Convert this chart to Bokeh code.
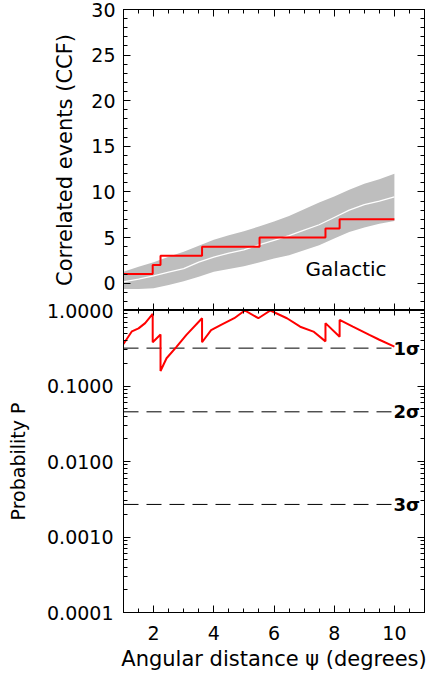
from bokeh.plotting import figure
from bokeh.layouts import column
from bokeh.models import (Range1d, LinearAxis, LogAxis, SingleIntervalTicker,
                          FixedTicker, PrintfTickFormatter)
from bokeh.core.properties import value
from bokeh.embed import file_html
from bokeh.resources import INLINE

# ---------------- data ----------------
psi_band = [1.0, 1.5, 2.0, 2.5, 3.0, 3.5, 4.0, 4.5, 5.0, 5.5,
            6.0, 6.5, 7.0, 7.5, 8.0, 8.5, 9.0, 9.5, 10.0]
ccf_upper = [1.25, 1.8, 2.3, 2.9, 3.45, 4.1, 4.75, 5.25, 5.7, 6.2,
             6.75, 7.35, 8.1, 8.85, 9.5, 10.25, 10.9, 11.4, 12.0]
ccf_lower = [-0.65, -0.65, -0.55, -0.2, 0.2, 0.7, 1.25, 1.55, 1.85, 2.25,
             2.7, 3.05, 3.6, 4.15, 4.9, 5.6, 6.1, 6.5, 6.8]
ccf_median = [0.15, 0.45, 0.8, 1.2, 1.6, 2.3, 2.85, 3.3, 3.65, 4.2,
              4.7, 5.2, 5.8, 6.4, 7.2, 8.0, 8.6, 9.0, 9.46]

step_psi = [1.0, 1.97, 2.23, 3.61, 5.52, 7.71, 8.18, 10.0]
step_ccf = [1, 2, 3, 4, 5, 6, 7, 7]

prob_psi = [1.0, 1.28, 1.5, 1.72, 1.97, 1.97, 2.23, 2.23, 2.43, 2.76,
            3.09, 3.61, 3.61, 3.91, 4.24, 4.68, 5.03, 5.48, 5.88, 6.43,
            6.87, 7.31, 7.71, 7.71, 8.18, 8.18, 8.62, 9.17, 9.5, 10.0]
prob_p = [0.36, 0.53, 0.58, 0.68, 0.9, 0.38, 0.48, 0.158, 0.233, 0.33,
          0.475, 0.79, 0.38, 0.55, 0.645, 0.79, 1.0, 0.79, 1.0, 0.79,
          0.61, 0.526, 0.39, 0.68, 0.45, 0.75, 0.61, 0.475, 0.41, 0.333]

sigma_levels = [0.3173, 0.0455, 0.0027]
sigma_labels = ["1σ", "2σ", "3σ"]

p_ticks = [0.0001, 0.001, 0.01, 0.1, 1.0]
p_minor = [m * d for d in [0.0001, 0.001, 0.01, 0.1] for m in range(2, 10)]

FONT = "DejaVu Sans"
OVERLAP = 20


def style_axis(ax, labels=True):
    ax.major_tick_in = 7
    ax.major_tick_out = 0
    ax.minor_tick_in = 4
    ax.minor_tick_out = 0
    ax.axis_line_color = "black"
    ax.major_tick_line_color = "black"
    ax.minor_tick_line_color = "black"
    ax.major_label_text_font = FONT
    ax.major_label_text_font_size = "19px"
    ax.major_label_text_color = "black"
    ax.axis_label_text_font = FONT
    ax.axis_label_text_font_size = "21px"
    ax.axis_label_text_font_style = "normal"
    ax.axis_label_text_color = "black"
    if not labels:
        ax.major_label_text_font_size = "1px"
        ax.major_label_text_color = None
        ax.major_label_standoff = 0


def x_ticker():
    return SingleIntervalTicker(interval=2, num_minor_ticks=4)


def ccf_ticker():
    return SingleIntervalTicker(interval=5, num_minor_ticks=5)


def p_ticker():
    return FixedTicker(ticks=p_ticks, minor_ticks=p_minor)


# ---------------- top panel ----------------
top = figure(frame_width=301, frame_height=301,
             x_range=Range1d(1, 11), y_range=Range1d(-3, 30),
             x_axis_location="above",
             output_backend="svg", toolbar_location=None,
             min_border_left=123, min_border_right=3,
             min_border_top=9, min_border_bottom=0)
top.grid.visible = False
top.outline_line_color = "black"

top.varea(x=psi_band, y1=ccf_lower, y2=ccf_upper, color="#bebebe")
top.line(psi_band, ccf_median, color="white", line_width=1.3)
top.step(step_psi, step_ccf, mode="after", color="#ff0000", line_width=2)
top.text(x=[7.05], y=[1.6], text=["Galactic"], text_font=value(FONT),
         text_font_size="20px", text_baseline="middle", text_color="black")

top.yaxis.ticker = ccf_ticker()
top.yaxis.axis_label = "Correlated events (CCF)"
style_axis(top.yaxis[0])
top.yaxis.major_label_standoff = 8
top.yaxis.axis_label_standoff = 11

top.xaxis.ticker = x_ticker()
style_axis(top.xaxis[0], labels=False)

ax = LinearAxis(ticker=ccf_ticker())
style_axis(ax, labels=False)
top.add_layout(ax, "right")

# ---------------- bottom panel ----------------
bot = figure(frame_width=301, frame_height=302,
             x_range=top.x_range, y_range=Range1d(0.0001, 1.0),
             y_axis_type="log",
             output_backend="svg", toolbar_location=None,
             min_border_left=123, min_border_right=3,
             min_border_top=OVERLAP, min_border_bottom=65)
bot.grid.visible = False
bot.outline_line_color = "black"
bot.border_fill_color = None
bot.styles = {"margin-top": f"-{OVERLAP}px"}

n = len(sigma_levels)
bot.segment(x0=[psi_band[0]] * n, x1=[psi_band[-1]] * n,
            y0=sigma_levels, y1=sigma_levels,
            line_dash="15 8", line_color="black", line_width=1)
bot.text(x=[10.85] * n, y=sigma_levels, text=sigma_labels,
         text_font=value(FONT), text_font_size="18px", text_font_style="bold",
         text_align="right", text_baseline="alphabetic", text_color="black")
bot.line(prob_psi, prob_p, color="#ff0000", line_width=2)

bot.yaxis.ticker = p_ticker()
bot.yaxis.formatter = PrintfTickFormatter(format="%.4f")
bot.yaxis.axis_label = "Probability P"
style_axis(bot.yaxis[0])
bot.yaxis.axis_label_text_font_size = "19px"
bot.yaxis.major_label_standoff = 10
bot.yaxis.axis_label_standoff = 15

bot.xaxis.ticker = x_ticker()
bot.xaxis.axis_label = "Angular distance ψ (degrees)"
style_axis(bot.xaxis[0])
bot.xaxis.major_label_standoff = 13
bot.xaxis.axis_label_standoff = 4

# shared boundary: ticks pointing both up (top panel) and down (bottom panel)
ax = LinearAxis(ticker=x_ticker())
style_axis(ax, labels=False)
ax.major_tick_in = 5
ax.major_tick_out = 7
ax.minor_tick_in = 3
ax.minor_tick_out = 3
bot.add_layout(ax, "above")

ax = LogAxis(ticker=p_ticker())
style_axis(ax, labels=False)
bot.add_layout(ax, "right")

layout = column(top, bot, spacing=0)
open("out.html", "w").write(file_html(layout, INLINE))
